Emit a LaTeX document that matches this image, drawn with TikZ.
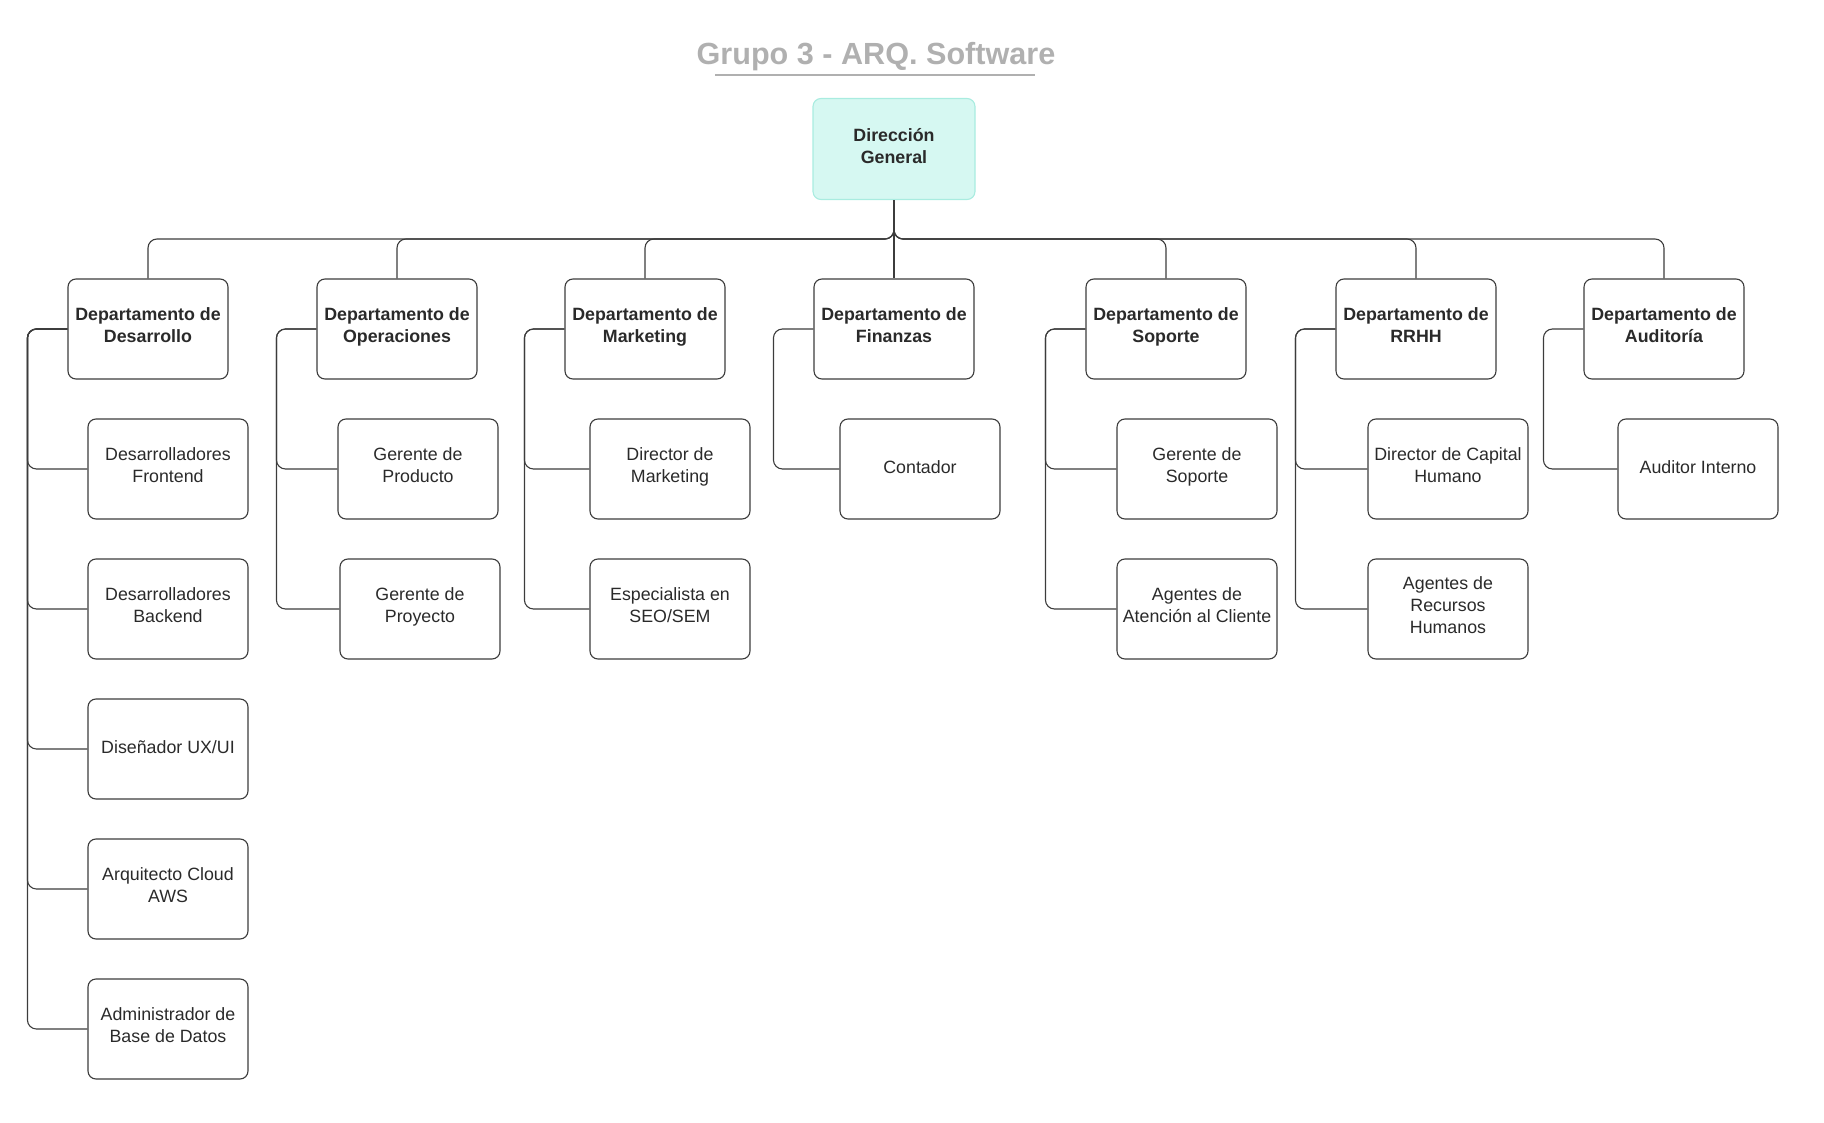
\documentclass[tikz,border=0pt]{standalone}
\usepackage{fontspec}
\setmainfont{Liberation Sans}

\definecolor{rootfill}{HTML}{D6F8F2}
\definecolor{rootline}{HTML}{A9ECE0}
\definecolor{titlegray}{HTML}{B0B0B0}
\definecolor{boxline}{HTML}{3C3C3C}
\definecolor{textdark}{HTML}{2A2A2A}

\begin{document}
\begin{tikzpicture}[
    x=1pt, y=-1pt,
    every node/.style={draw=boxline, line width=1.1pt, rounded corners=8pt,
        minimum width=160pt, minimum height=100pt, align=center, text=textdark,
        text depth=7pt, execute at begin node={\rule{0pt}{16pt}},
        font=\fontsize{17.8}{22}\selectfont},
    root node/.style={fill=rootfill, draw=rootline, minimum width=162pt, minimum height=101pt,
        font=\bfseries\fontsize{17.8}{22}\selectfont},
    dept node/.style={font=\bfseries\fontsize{17.8}{22}\selectfont},
    title node/.style={draw=none, minimum width=0pt, minimum height=0pt, text=titlegray,
        text depth=, execute at begin node={},
        font=\bfseries\fontsize{30.6}{36}\selectfont},
    link/.style={draw=boxline, line width=1.1pt, rounded corners=9pt}
    ]
    \useasboundingbox (0,0) rectangle (1824,1123);

    % Title
    \node[title node] (title) at (876,57) {Grupo 3 - ARQ. Software};
    \draw[titlegray, line width=1.8pt] (715,75) -- (1035,75);

    % Nodes
    \node[root node] (dir) at (894,149) {Dirección\\General};

    \node[dept node] (dev) at (148,329) {Departamento de\\Desarrollo};
    \node[dept node] (ops) at (397,329) {Departamento de\\Operaciones};
    \node[dept node] (mkt) at (645,329) {Departamento de\\Marketing};
    \node[dept node] (fin) at (894,329) {Departamento de\\Finanzas};
    \node[dept node] (sop) at (1166,329) {Departamento de\\Soporte};
    \node[dept node] (rrhh) at (1416,329) {Departamento de\\RRHH};
    \node[dept node] (aud) at (1664,329) {Departamento de\\Auditoría};

    \node (dev1) at (168,469) {Desarrolladores\\Frontend};
    \node (dev2) at (168,609) {Desarrolladores\\Backend};
    \node (dev3) at (168,749) {Diseñador UX/UI};
    \node (dev4) at (168,889) {Arquitecto Cloud\\AWS};
    \node (dev5) at (168,1029) {Administrador de\\Base de Datos};

    \node (ops1) at (418,469) {Gerente de\\Producto};
    \node (ops2) at (420,609) {Gerente de\\Proyecto};

    \node (mkt1) at (670,469) {Director de\\Marketing};
    \node (mkt2) at (670,609) {Especialista en\\SEO/SEM};

    \node (fin1) at (920,469) {Contador};

    \node (sop1) at (1197,469) {Gerente de\\Soporte};
    \node (sop2) at (1197,609) {Agentes de\\Atención al Cliente};

    \node (rrhh1) at (1448,469) {Director de Capital\\Humano};
    \node (rrhh2) at (1448,609) {Agentes de\\Recursos\\Humanos};

    \node (aud1) at (1698,469) {Auditor Interno};

    % Connections
    \coordinate (bus) at (894,239);
    \foreach \d in {dev, ops, mkt, fin, sop, rrhh, aud}
        \draw[link] (dir.south) -- (dir.south |- bus) -| (\d.north);

    \foreach \d/\cs in {dev/{dev1,dev2,dev3,dev4,dev5}, ops/{ops1,ops2}, mkt/{mkt1,mkt2},
                        fin/{fin1}, sop/{sop1,sop2}, rrhh/{rrhh1,rrhh2}, aud/{aud1}}
        \foreach \c in \cs
            \draw[link] (\d.west) -- ++(-40,0) |- (\c.west);

\end{tikzpicture}
\end{document}
